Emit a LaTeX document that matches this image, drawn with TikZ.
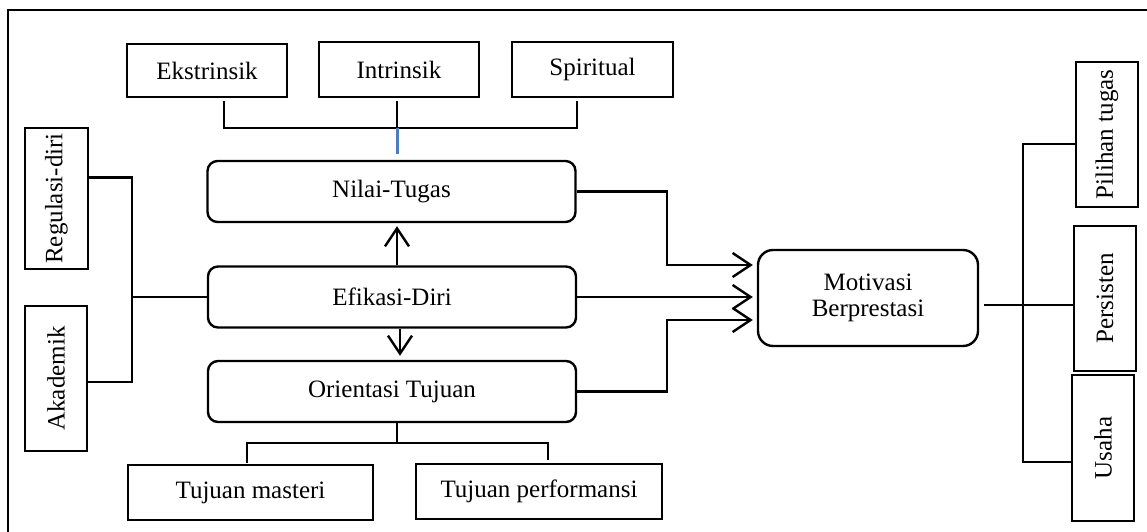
\documentclass[tikz,border=0pt]{standalone}
\usepackage{fontspec}
\setmainfont{Liberation Serif}
\usetikzlibrary{positioning,calc,arrows.meta}
\definecolor{blueline}{RGB}{74,126,193}

\begin{document}
\begin{tikzpicture}[x=1pt,y=-1pt]
                    \tikzstyle{every node}=[draw,rectangle,line width=2.4pt,inner sep=4,font=\fontsize{25}{27}\selectfont]
                    \tikzstyle{plain}=[minimum height=55,minimum width=160]
                    \tikzstyle{factor}=[rounded corners=10,minimum height=61,minimum width=368]
                    \tikzstyle{vbox}=[rotate=90,minimum width=145,minimum height=62]
                    \tikzstyle{line}=[line width=2.4pt]
                    \tikzstyle{arr}=[line width=2.4pt,-{Straight Barb[length=18pt,width=24pt]}]
                    \useasboundingbox (0,0) rectangle (1147,532);
                    \draw[line] (8,545) -- (8,10) -- (1160,10);
                    {
                        \node[plain,minimum height=53] (ekstr) at (207,70.5) {Ekstrinsik};
                        \node[plain] (intr) at (399,69.5) {Intrinsik};
                        \node[plain,minimum width=161] (spir) at (592.5,69.5) {Spiritual};
                        \node[factor] (nilai) at (391.5,191.5) {Nilai-Tugas};
                        \node[factor] (efik) at (392,297) {Efikasi-Diri};
                        \node[factor] (orient) at (392,391.5) {Orientasi Tujuan};
                        \node[plain,minimum width=245] (master) at (250.5,492.5) {Tujuan masteri};
                        \node[plain,minimum width=246] (perform) at (539,491.5) {Tujuan performansi};
                        \node[rounded corners=15,minimum width=220,minimum height=96,align=center,font=\fontsize{25}{26}\selectfont] (motiv) at (868,298) {Motivasi\\Berprestasi};
                        \node[vbox,minimum width=141,minimum height=63] (regul) at (56.5,198.5) {Regulasi-diri};
                        \node[vbox] (akad) at (56,378.5) {Akademik};
                        \node[vbox] (pilih) at (1107,134.5) {Pilihan tugas};
                        \node[vbox] (persis) at (1105,298.5) {Persisten};
                        \node[vbox,minimum width=146] (usaha) at (1103,448) {Usaha};
                    }
                    % nilai dan bagiannya
                    \draw[line] ([xshift=17pt,yshift=-3pt]ekstr.south) -- (224,128) -- (577,128) -- ([xshift=-15.5pt,yshift=-3pt]spir.south);
                    \draw[line] ([xshift=-2pt,yshift=-3pt]intr.south) -- (397,128);
                    \draw[line,line width=3pt,draw=blueline] (397,128) -- ([xshift=5.5pt,yshift=6pt]nilai.north);
                    \draw[arr] ([xshift=5pt]efik.north) -- ([xshift=5.5pt,yshift=-3pt]nilai.south);
                    \draw[arr] ([xshift=8pt]efik.south) -- ([xshift=8pt,yshift=4pt]orient.north);
                    % ke motivasi
                    \coordinate (m1) at ([xshift=-4pt,yshift=33pt]motiv.west);
                    \coordinate (m2) at ([xshift=-4pt]motiv.west);
                    \coordinate (m3) at ([xshift=-4pt,yshift=-22pt]motiv.west);
                    \draw[arr] (nilai.east) -| (667,0 |- m1) -- (m1);
                    \draw[arr] (efik.east) -- (efik.east -| m2);
                    \draw[arr] (orient.east) -| (667,0 |- m3) -- (m3);
                    % efikasi-diri
                    \coordinate (r1) at ([yshift=21pt]regul.south);
                    \coordinate (a1) at ([yshift=-3.5pt]akad.south);
                    \draw[line] (r1) -| (132,0 |- a1) -- (a1);
                    \draw[line] (efik.west) -- (132,0 |- efik.west);
                    % orientasi tujuan
                    \draw[line] ([xshift=5pt]orient.south) -- (397,443);
                    \draw[line] ([xshift=-3.5pt,yshift=1pt]master.north) -- (247,443) -- (548,443) -- ([xshift=9pt,yshift=3pt]perform.north);
                    % hasil
                    \draw[line] ([xshift=5pt,yshift=-7pt]motiv.east) -- ([yshift=-6.5pt]persis.north);
                    \draw[line] ([yshift=-9.5pt]pilih.north) -- (1023,144) -- (1023,462) -- ([yshift=-14pt]usaha.north);
                \end{tikzpicture}
\end{document}
